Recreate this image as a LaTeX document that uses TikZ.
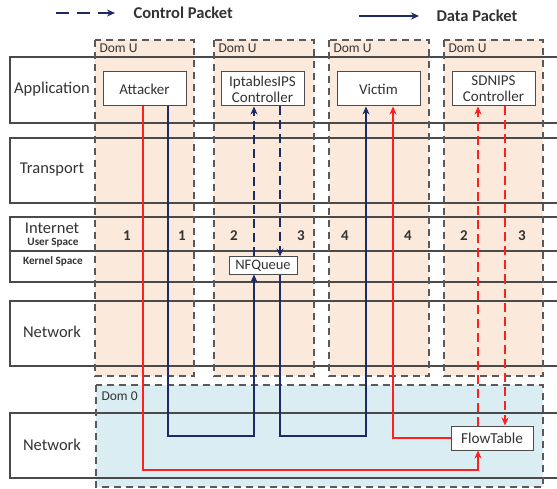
\documentclass[tikz,border=0pt]{standalone}
\usepackage{fontspec}
\setmainfont{Carlito}
\usetikzlibrary{arrows.meta}
\definecolor{domu}{HTML}{FBEADB}
\definecolor{domz}{HTML}{DAEDF2}
\definecolor{navy}{HTML}{1C2A66}
\definecolor{redl}{HTML}{FF1F1F}
\definecolor{bandc}{HTML}{4A4A4A}
\definecolor{txt}{HTML}{333333}
\tikzset{
  band/.style={draw=bandc, line width=1.1pt},
  dombox/.style={draw=black!65, line width=1.3pt, dash pattern=on 7pt off 5pt},
  appbox/.style={draw=black!70, fill=white, line width=1pt, minimum width=83pt, minimum height=34pt, align=center, font=\fontsize{15}{16}\selectfont, text=txt, inner sep=1pt},
  smallbox/.style={draw=black!70, fill=white, line width=1pt, align=center, font=\fontsize{14.5}{16}\selectfont, text=txt, inner sep=2pt},
  layer/.style={font=\fontsize{16.5}{18}\selectfont, text=txt},
  sublayer/.style={font=\bfseries\fontsize{11.2}{12}\selectfont, text=txt},
  domlabel/.style={font=\fontsize{13.5}{15}\selectfont, text=txt, anchor=west},
  num/.style={font=\bfseries\fontsize{15}{17}\selectfont, text=txt},
  tip/.style={-{Stealth[length=8pt,width=7pt]}},
  data/.style={tip, draw=navy, line width=1.6pt},
  datared/.style={tip, draw=redl, line width=1.6pt},
  ctrl/.style={tip, draw=navy, line width=1.6pt, dash pattern=on 9pt off 5pt},
  ctrlred/.style={tip, draw=redl, line width=1.6pt, dash pattern=on 9pt off 5pt},
}
\begin{document}
\begin{tikzpicture}[x=1pt, y=-1pt]
\useasboundingbox (0,0) rectangle (557,489);

% domain backgrounds
\fill[domu] (95,40) rectangle (194,376);
\fill[domu] (214,40) rectangle (314,376);
\fill[domu] (329,40) rectangle (429,376);
\fill[domu] (444,40) rectangle (543,376);
\fill[domz] (96,385) rectangle (543,487);

% protocol layers
\draw[band] (557,57) -- (10,57) -- (10,123) -- (557,123);
\draw[band] (557,138) -- (10,138) -- (10,203) -- (557,203);
\draw[band] (557,217) -- (10,217) -- (10,282) -- (557,282);
\draw[band] (10,251) -- (557,251);
\draw[band] (557,301) -- (10,301) -- (10,366) -- (557,366);
\draw[band] (557,413) -- (10,413) -- (10,478) -- (557,478);

% domain borders
\draw[dombox] (95,40) rectangle (194,376);
\draw[dombox] (214,40) rectangle (314,376);
\draw[dombox] (329,40) rectangle (429,376);
\draw[dombox] (444,40) rectangle (543,376);
\draw[dombox] (96,385) rectangle (543,487);

% domain labels
\node[domlabel] (du1) at (96,48) {Dom U};
\node[domlabel] (du2) at (215,48) {Dom U};
\node[domlabel] (du3) at (330,48) {Dom U};
\node[domlabel] (du4) at (445,48) {Dom U};
\node[domlabel] (dz) at (98,396) {Dom 0};

% layer labels
\node[layer] (lapp) at (52,89) {Application};
\node[layer] (ltr) at (52,170) {Transport};
\node[layer] (lint) at (52,228) {Internet};
\node[sublayer] (lus) at (53,243) {User Space};
\node[sublayer] (lks) at (53,261) {Kernel Space};
\node[layer] (lnet) at (52,332) {Network};
\node[layer] (lnet2) at (52,445) {Network};

% components
\node[appbox] (attacker) at (144.5,89) {Attacker};
\node[appbox] (ipsctl) at (262.5,89) {IptablesIPS\\Controller};
\node[appbox] (victim) at (378.5,89) {Victim};
\node[appbox] (sdnctl) at (493.5,89) {SDNIPS\\Controller};
\node[smallbox, minimum width=68pt, minimum height=17pt] (nfq) at (263,265.5) {NFQueue};
\node[smallbox, minimum width=82pt, minimum height=24pt, font=\fontsize{15.2}{17}\selectfont] (flow) at (492,438) {FlowTable};

% step numbers
\node[num] (n1) at (127,236) {1};
\node[num] (n2) at (182,236) {1};
\node[num] (n3) at (234,236) {2};
\node[num] (n4) at (301,236) {3};
\node[num] (n5) at (345,236) {4};
\node[num] (n6) at (408,236) {4};
\node[num] (n7) at (464,236) {2};
\node[num] (n8) at (522,236) {3};

% column and turn coordinates
\coordinate (xar) at (143,0);
\coordinate (xan) at (168,0);
\coordinate (xqi) at (254,0);
\coordinate (xqo) at (280,0);
\coordinate (xvn) at (366,0);
\coordinate (xvr) at (393,0);
\coordinate (xsu) at (478,0);
\coordinate (xsd) at (505,0);
\coordinate (yin) at (0,436);
\coordinate (ylow) at (0,470);

% packet paths
\draw[datared] (attacker.south -| xar) -- (xar |- ylow) -- (xsu |- ylow) -- (flow.south -| xsu);
\draw[data] (attacker.south -| xan) -- (xan |- yin) -- (xqi |- yin) -- (nfq.south -| xqi);
\draw[ctrl] (nfq.north -| xqi) -- (ipsctl.south -| xqi);
\draw[ctrl] (ipsctl.south -| xqo) -- (nfq.north -| xqo);
\draw[data] (nfq.south -| xqo) -- (xqo |- yin) -- (xvn |- yin) -- (victim.south -| xvn);
\draw[datared] (flow.west) -- (xvr |- flow.west) -- (victim.south -| xvr);
\draw[ctrlred] (flow.north -| xsu) -- (sdnctl.south -| xsu);
\draw[ctrlred] (sdnctl.south -| xsd) -- (flow.north -| xsd);

% legend
\coordinate (lg1a) at (56,13);
\coordinate (lg1b) at (115,13);
\coordinate (lg2a) at (359,16);
\coordinate (lg2b) at (419,16);
\draw[ctrl, dash pattern=on 13pt off 8pt] (lg1a) -- (lg1b);
\draw[data] (lg2a) -- (lg2b);
\node[anchor=west, font=\bfseries\fontsize{16.5}{18}\selectfont, text=txt] (lgc) at (130,13) {Control Packet};
\node[anchor=west, font=\bfseries\fontsize{16.5}{18}\selectfont, text=txt] (lgd) at (433,16) {Data Packet};
\end{tikzpicture}
\end{document}
